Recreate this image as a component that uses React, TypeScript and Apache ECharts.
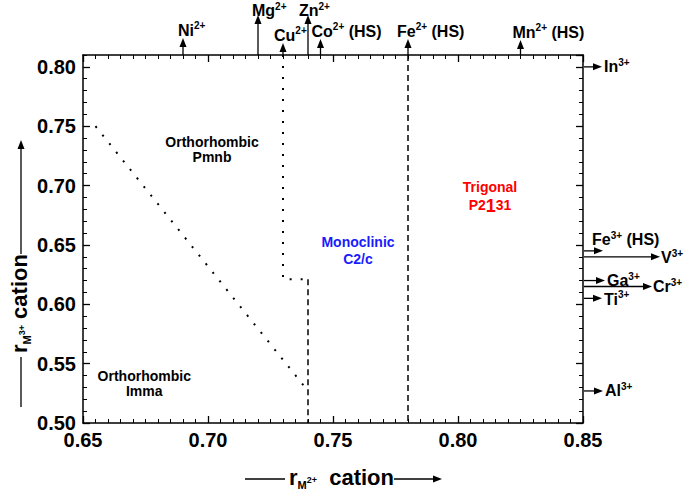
import React, { useEffect, useRef } from "react";
import * as echarts from "echarts";

// ---------- data ----------
const xTickValues = [0.65, 0.7, 0.75, 0.8, 0.85];
const yTickValues = [0.5, 0.55, 0.6, 0.65, 0.7, 0.75, 0.8];

const diagonalBoundary = [[0.655, 0.75], [0.74, 0.527]];
const cuBoundary = [[0.73, 0.81], [0.73, 0.621], [0.74, 0.621]];
const znBoundary = [[0.74, 0.621], [0.74, 0.5]];
const feBoundary = [[0.78, 0.81], [0.78, 0.5]];

const m2Ions = ["Ni", "Mg", "Cu", "Zn", "Co", "Fe", "Mn"];
const m2Radii = [0.69, 0.72, 0.73, 0.74, 0.745, 0.78, 0.825];
const m2Suffix = ["", "", "", "", " (HS)", " (HS)", " (HS)"];

const m3Ions = ["In", "Fe", "V", "Ga", "Cr", "Ti", "Al"];
const m3Radii = [0.8, 0.645, 0.64, 0.62, 0.615, 0.605, 0.527];
const m3Suffix = ["", " (HS)", "", "", "", "", ""];

const regionLines = [
  ["Orthorhombic", "Pmnb"],
  ["Orthorhombic", "Imma"],
  ["Monoclinic", "C2/c"],
  ["Trigonal", "P2131"],
];
const regionAnchors = [[0.7016, 0.7308], [0.6745, 0.533], [0.76, 0.6457], [0.8128, 0.691]];

// ---------- layout / style ----------
const FONT = "Liberation Sans";
const regionColors = ["#000", "#000", "#1a1aff", "#ff0000"];
// top arrows: tip y (px), label dx from arrow, label center y
const topTipY = [38, 15, 43, 15, 39, 39, 40];
const topLabelDx = [-5, -6, -9, -9, -9, -11, -8];
const topLabelY = [30, 10.5, 35, 10.5, 31, 31, 32];
// right arrows: tip x (px), label x, label dy
const rightTipX = [602, 603, 660, 605, 652, 602, 603];
const rightLabelX = [604, 592, 661, 607, 653, 604, 605];
const rightLabelDy = [0, -11, 1, 0, 0, 1, 0];

let measureCtx: CanvasRenderingContext2D | null = null;
function measure(t: string, fs: number) {
  if (!measureCtx) measureCtx = document.createElement("canvas").getContext("2d");
  measureCtx!.font = `bold ${fs}px "${FONT}"`;
  return measureCtx!.measureText(t).width;
}

type Seg = [string, string];
function textRow(segs: Seg[], x: number, y: number, size: number, color: string, align = "left") {
  const spec = (k: string) => {
    switch (k) {
      case "sup": return { fs: Math.round(size * 0.62), dy: -size * 0.28 };
      case "sub": return { fs: Math.round(size * 0.5), dy: size * 0.38 };
      case "ss": return { fs: Math.round(size * 0.4), dy: size * 0.12 };
      case "big": return { fs: Math.round(size * 1.3), dy: 1 };
      default: return { fs: size, dy: 0 };
    }
  };
  let w = 0;
  const items: any[] = [];
  segs.forEach(([t, k]) => {
    const s = spec(k);
    const lead = t.length - t.trimStart().length;
    if (lead) w += measure(" ".repeat(lead), s.fs);
    const tt = t.trimStart();
    items.push({ t: tt, s, x: w });
    w += measure(tt, s.fs);
  });
  const x0 = align === "left" ? x : align === "center" ? x - w / 2 : x - w;
  const els = items.map((it) => ({
    type: "text",
    silent: true,
    x: x0 + it.x,
    y: y + it.s.dy,
    style: {
      text: it.t,
      fontSize: it.s.fs,
      fontWeight: "bold",
      fontFamily: FONT,
      fill: color,
      align: "left",
      verticalAlign: "middle",
      textAlign: "left",
      textVerticalAlign: "middle",
    },
  }));
  return { width: w, els };
}

function arrow(x1: number, y1: number, x2: number, y2: number, head = 9, hw = 3.5, lw = 1.3) {
  const dx = x2 - x1, dy = y2 - y1;
  const L = Math.hypot(dx, dy) || 1;
  const ux = dx / L, uy = dy / L;
  const bx = x2 - ux * head, by = y2 - uy * head;
  return [
    { type: "line", silent: true, shape: { x1, y1, x2: bx + ux * 1, y2: by + uy * 1 }, style: { stroke: "#000", lineWidth: lw } },
    {
      type: "polygon", silent: true,
      shape: { points: [[x2, y2], [bx - uy * hw, by + ux * hw], [bx + uy * hw, by - ux * hw]] },
      style: { fill: "#000" },
    },
  ];
}

const axisLabelStyle = {
  fontSize: 20,
  fontWeight: "bold",
  fontFamily: FONT,
  color: "#000",
};
const isMajor = (v: number) => Math.abs(v * 20 - Math.round(v * 20)) < 1e-6;

function xAxisDef(position: string, labels: boolean) {
  return {
    type: "value", position, min: 0.65, max: 0.85, interval: 0.05,
    axisLine: { show: true, onZero: false, lineStyle: { color: "#000", width: 1.5 } },
    axisTick: { show: true, inside: true, length: 7, lineStyle: { color: "#000", width: 1.3 } },
    minorTick: { show: true, splitNumber: 10, length: 4, lineStyle: { color: "#000", width: 1 } },
    axisLabel: labels
      ? { ...axisLabelStyle, margin: 7, formatter: (v: number) => (isMajor(v) ? v.toFixed(2) : "") }
      : { show: false },
    splitLine: { show: false },
    minorSplitLine: { show: false },
  };
}
function yMajor(position: string, labels: boolean) {
  return {
    type: "value", position, min: 0.5, max: 0.81, interval: 0.05,
    axisLine: { show: true, onZero: false, lineStyle: { color: "#000", width: 1.5 } },
    axisTick: { show: true, inside: true, length: 7, lineStyle: { color: "#000", width: 1.3 } },
    axisLabel: labels
      ? { ...axisLabelStyle, margin: 7, showMaxLabel: false, formatter: (v: number) => (isMajor(v) && v < 0.805 ? v.toFixed(2) : "") }
      : { show: false },
    splitLine: { show: false },
  };
}
function yMinor(position: string) {
  return {
    type: "value", position, min: 0.5, max: 0.81, interval: 0.01,
    axisLine: { show: false, onZero: false },
    axisTick: { show: true, inside: true, length: 4, lineStyle: { color: "#000", width: 1 } },
    axisLabel: { show: false },
    splitLine: { show: false },
  };
}

export default function App() {
  const ref = useRef<HTMLDivElement>(null);
  useEffect(() => {
    if (!ref.current) return;
    const chart = echarts.init(ref.current, null, { renderer: "svg" });
    const dotted = { color: "#000", width: 2, type: [2, 9] as any, cap: "butt" };
    const dashed = { color: "#000", width: 1.5, type: [6, 4] as any };
    const lineSeries = (data: number[][], style: any) => ({
      type: "line", data, xAxisIndex: 0, yAxisIndex: 0, showSymbol: false, symbol: "none",
      lineStyle: style, silent: true, clip: false,
    });
    chart.setOption({
      animation: false,
      backgroundColor: "#fff",
      grid: { left: 83, top: 55, width: 500, height: 368, containLabel: false },
      xAxis: [xAxisDef("bottom", true), xAxisDef("top", false)],
      yAxis: [yMajor("left", true), yMinor("left"), yMajor("right", false), yMinor("right")],
      series: [
        lineSeries(diagonalBoundary, dotted),
        lineSeries(cuBoundary, dotted),
        lineSeries(znBoundary, dashed),
        lineSeries(feBoundary, dashed),
      ],
    });

    const px = (x: number, y: number) => chart.convertToPixel({ xAxisIndex: 0, yAxisIndex: 0 }, [x, y]) as number[];
    const [, gyTop] = px(0.65, 0.81);
    const [gx1] = px(0.85, 0.5);
    const els: any[] = [];

    // top cation arrows
    m2Ions.forEach((ion, i) => {
      const [ax] = px(m2Radii[i], 0.81);
      els.push(...arrow(ax, gyTop, ax, topTipY[i]));
      const segs: Seg[] = [[ion, "n"], ["2+", "sup"]];
      if (m2Suffix[i]) segs.push([m2Suffix[i], "n"]);
      els.push(...textRow(segs, ax + topLabelDx[i], topLabelY[i], 16, "#000").els);
    });

    // right cation arrows
    m3Ions.forEach((ion, i) => {
      const [, ay] = px(0.85, m3Radii[i]);
      els.push(...arrow(gx1 + 1, ay, rightTipX[i], ay));
      const segs: Seg[] = [[ion, "n"], ["3+", "sup"]];
      if (m3Suffix[i]) segs.push([m3Suffix[i], "n"]);
      els.push(...textRow(segs, rightLabelX[i], ay + rightLabelDy[i], 16, "#000").els);
    });

    // region labels
    regionLines.forEach((lines, i) => {
      const [cx, cy] = px(regionAnchors[i][0], regionAnchors[i][1]);
      const gap = i === 2 ? 17 : i === 3 ? 18 : 15;
      els.push(...textRow([[lines[0], "n"]], cx, cy - gap / 2, 14, regionColors[i], "center").els);
      const second: Seg[] = i === 3 ? [["P2", "n"], ["1", "big"], ["31", "n"]] : [[lines[1], "n"]];
      els.push(...textRow(second, cx, cy + gap / 2, 14, regionColors[i], "center").els);
    });

    // bottom axis title
    {
      const y = 479;
      const lineStart = 245, lineLen = 40;
      els.push({ type: "line", silent: true, shape: { x1: lineStart, y1: y, x2: lineStart + lineLen, y2: y }, style: { stroke: "#000", lineWidth: 1.3 } });
      const row = textRow([["r", "n"], ["M", "sub"], ["2+", "ss"], ["  cation", "n"]], lineStart + lineLen + 4, y - 2, 22, "#000");
      els.push(...row.els);
      const endX = lineStart + lineLen + 4 + row.width;
      els.push(...arrow(endX, y, 442, y));
    }
    // left axis title (rotated)
    {
      const children: any[] = [];
      const lineLen = 50;
      children.push({ type: "line", silent: true, shape: { x1: 0, y1: 0, x2: lineLen, y2: 0 }, style: { stroke: "#000", lineWidth: 1.3 } });
      const row = textRow([["r", "n"], ["M", "sub"], ["3+", "ss"], [" cation", "n"]], lineLen + 4, -2, 22, "#000");
      children.push(...row.els);
      const endX = lineLen + 4 + row.width;
      children.push(...arrow(endX, 0, 407 - 140, 0));
      els.push({ type: "group", x: 21, y: 407, rotation: Math.PI / 2, children });
    }

    chart.setOption({ graphic: { elements: els } });
    return () => chart.dispose();
  }, []);
  return (
    <div
      ref={ref}
      style={{ position: "absolute", left: 0, top: 0, width: 685, height: 490, background: "#fff" }}
    />
  );
}
